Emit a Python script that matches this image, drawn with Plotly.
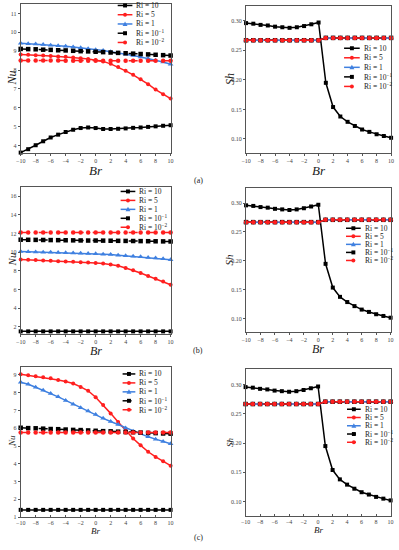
import plotly.graph_objects as go

# ---------------- data ----------------
br = [-10, -9, -8, -7, -6, -5, -4, -3, -2, -1, 0, 1, 2, 3, 4, 5, 6, 7, 8, 9, 10]
x_ticks = [-10, -8, -6, -4, -2, 0, 2, 4, 6, 8, 10]
series_names = ["Ri = 10", "Ri = 5", "Ri = 1", "Ri = 10<sup>−1</sup>", "Ri = 10<sup>−2</sup>"]
panel_labels = ["(a)", "(b)", "(c)"]

# (a) Nu
nu_a_ri10 = [3.63, 3.81, 4.02, 4.23, 4.43, 4.58, 4.72, 4.84, 4.93, 4.96, 4.93, 4.88, 4.88, 4.89, 4.91,
             4.94, 4.96, 4.99, 5.02, 5.05, 5.08]
nu_a_ri5 = [8.82, 8.81, 8.79, 8.77, 8.75, 8.72, 8.70, 8.67, 8.63, 8.59, 8.54, 8.46, 8.33, 8.16, 7.96,
            7.75, 7.52, 7.25, 6.97, 6.72, 6.49]
nu_a_ri1 = [9.42, 9.40, 9.38, 9.35, 9.32, 9.29, 9.26, 9.22, 9.18, 9.13, 9.08, 9.03, 8.97, 8.91, 8.84,
            8.77, 8.69, 8.61, 8.52, 8.43, 8.31]
nu_a_ri01 = [9.12, 9.11, 9.10, 9.08, 9.07, 9.05, 9.04, 9.02, 9.00, 8.99, 8.97, 8.95, 8.93, 8.91, 8.89,
             8.87, 8.85, 8.83, 8.81, 8.79, 8.77]
nu_a_ri001 = [8.51, 8.51, 8.51, 8.51, 8.51, 8.51, 8.50, 8.50, 8.50, 8.50, 8.50, 8.50, 8.50, 8.50, 8.50,
              8.50, 8.49, 8.49, 8.49, 8.49, 8.49]

# (b) Nu
nu_b_ri10 = [1.50, 1.50, 1.50, 1.50, 1.50, 1.50, 1.50, 1.50, 1.50, 1.50, 1.50, 1.50, 1.50, 1.50, 1.50,
             1.50, 1.50, 1.50, 1.50, 1.50, 1.50]
nu_b_ri5 = [9.22, 9.19, 9.16, 9.12, 9.08, 9.04, 9.00, 8.97, 8.93, 8.89, 8.85, 8.78, 8.68, 8.54, 8.30,
            8.05, 7.76, 7.45, 7.15, 6.84, 6.50]
nu_b_ri1 = [10.06, 10.04, 10.02, 10.00, 9.98, 9.96, 9.93, 9.91, 9.88, 9.85, 9.82, 9.78, 9.74, 9.68, 9.62,
            9.56, 9.50, 9.44, 9.37, 9.29, 9.20]
nu_b_ri01 = [11.34, 11.33, 11.32, 11.31, 11.30, 11.29, 11.28, 11.27, 11.26, 11.25, 11.25, 11.24, 11.23,
             11.22, 11.21, 11.20, 11.19, 11.18, 11.17, 11.16, 11.15]
nu_b_ri001 = [12.12, 12.12, 12.12, 12.12, 12.12, 12.12, 12.12, 12.12, 12.12, 12.12, 12.12, 12.12, 12.12,
              12.12, 12.12, 12.12, 12.12, 12.12, 12.12, 12.12, 12.12]

# (c) Nu
nu_c_ri10 = [1.41, 1.41, 1.41, 1.41, 1.41, 1.41, 1.41, 1.41, 1.41, 1.41, 1.41, 1.41, 1.41, 1.41, 1.41,
             1.41, 1.41, 1.41, 1.41, 1.41, 1.41]
nu_c_ri5 = [9.04, 8.98, 8.93, 8.87, 8.81, 8.72, 8.63, 8.52, 8.33, 8.11, 7.75, 7.31, 6.84, 6.36, 5.87,
            5.43, 5.04, 4.68, 4.39, 4.14, 3.90]
nu_c_ri1 = [8.59, 8.48, 8.31, 8.14, 7.96, 7.77, 7.57, 7.36, 7.16, 6.97, 6.77, 6.56, 6.38, 6.21, 6.02,
            5.84, 5.69, 5.52, 5.39, 5.26, 5.13]
nu_c_ri01 = [6.03, 6.01, 6.00, 5.98, 5.96, 5.95, 5.93, 5.91, 5.90, 5.88, 5.86, 5.84, 5.83, 5.81, 5.79,
             5.78, 5.76, 5.74, 5.73, 5.71, 5.70]
nu_c_ri001 = [5.76, 5.76, 5.76, 5.76, 5.76, 5.76, 5.76, 5.76, 5.76, 5.76, 5.76, 5.76, 5.76, 5.76, 5.76,
              5.76, 5.76, 5.76, 5.76, 5.76, 5.76]

# Sh (same in all three rows)
sh_ri10 = [0.296, 0.295, 0.293, 0.292, 0.290, 0.289, 0.288, 0.289, 0.291, 0.294, 0.297, 0.195, 0.154,
           0.138, 0.129, 0.122, 0.116, 0.112, 0.108, 0.105, 0.102]
sh_ri5 = [0.267, 0.267, 0.267, 0.267, 0.267, 0.267, 0.267, 0.267, 0.267, 0.267, 0.267, 0.271, 0.271,
          0.271, 0.271, 0.271, 0.271, 0.271, 0.271, 0.271, 0.271]
sh_ri1 = [0.267, 0.267, 0.267, 0.267, 0.267, 0.267, 0.267, 0.267, 0.267, 0.267, 0.267, 0.271, 0.271,
          0.271, 0.271, 0.271, 0.271, 0.271, 0.271, 0.271, 0.271]
sh_ri01 = [0.267, 0.267, 0.267, 0.267, 0.267, 0.267, 0.267, 0.267, 0.267, 0.267, 0.267, 0.271, 0.271,
           0.271, 0.271, 0.271, 0.271, 0.271, 0.271, 0.271, 0.271]
sh_ri001 = [0.267, 0.267, 0.267, 0.267, 0.267, 0.267, 0.267, 0.267, 0.267, 0.267, 0.267, 0.271, 0.271,
            0.271, 0.271, 0.271, 0.271, 0.271, 0.271, 0.271, 0.271]

nu_sets = [
    [nu_a_ri10, nu_a_ri5, nu_a_ri1, nu_a_ri01, nu_a_ri001],
    [nu_b_ri10, nu_b_ri5, nu_b_ri1, nu_b_ri01, nu_b_ri001],
    [nu_c_ri10, nu_c_ri5, nu_c_ri1, nu_c_ri01, nu_c_ri001],
]
sh_set = [sh_ri10, sh_ri5, sh_ri1, sh_ri01, sh_ri001]

# ---------------- styles ----------------
W, H = 399, 550
BLACK = "#000000"
RED = "#ff1f1f"
BLUE = "#3f80e0"
FONT = "Liberation Serif"
styles = [
    dict(color=BLACK, symbol="square", dash="solid", size=4),
    dict(color=RED, symbol="circle", dash="solid", size=4),
    dict(color=BLUE, symbol="triangle-up", dash="solid", size=5),
    dict(color=BLACK, symbol="square", dash="dash", size=4.5),
    dict(color=RED, symbol="circle", dash="dash", size=4.5),
]

# panel frames in pixels: (x0, x1, y_top, y_bottom)
frames = [
    (16, 169, 4, 154), (246, 394, 6, 154),
    (16, 169, 188, 336), (246, 393.5, 189, 334),
    (16, 169, 369, 520), (245.5, 393.5, 371, 519),
]
yranges = [(3.6, 11.5), (0.076, 0.325), (1.2, 17.0), (0.077, 0.326), (1.0, 9.45), (0.075, 0.327)]
ytickvals = [
    [4, 5, 6, 7, 8, 9, 10, 11], [0.10, 0.15, 0.20, 0.25, 0.30],
    [2, 4, 6, 8, 10, 12, 14, 16], [0.10, 0.15, 0.20, 0.25, 0.30],
    [1, 2, 3, 4, 5, 6, 7, 8, 9], [0.10, 0.15, 0.20, 0.25, 0.30],
]
# manual legend: (line x0, line x1, first-entry y, spacing) in px
legends = [
    (115, 130, 5.5, 9.3), (346, 362, 48.5, 9.6),
    (118, 133, 192.5, 9.0), (348, 363, 229.5, 8.1),
    (120, 133, 376.0, 9.0), (349, 363, 411.5, 8.3),
]
ytitle_font = [12, 12, 11, 11, 9, 9]
xtitle_font = [13, 13, 12, 12, 9, 9]
xtitle_off = [17, 17, 17, 17, 14, 14]
xtick_dir = ["outside", "outside", "outside", "outside", "inside", "inside"]


def px(x):
    return x / W


def py(y):
    return 1 - y / H


fig = go.Figure()
layout = dict(
    width=W, height=H, margin=dict(l=0, r=0, t=0, b=0),
    paper_bgcolor="white", plot_bgcolor="white", showlegend=False,
    font=dict(family=FONT, color="#222"),
)
shapes = []
annotations = []

for i in range(6):
    row, col = divmod(i, 2)
    ax = "" if i == 0 else str(i + 1)
    x0, x1, yt, yb = frames[i]
    data = nu_sets[row] if col == 0 else sh_set
    for k in range(5):
        st = styles[k]
        fig.add_trace(go.Scatter(
            x=br, y=data[k], mode="lines+markers", name=series_names[k],
            xaxis="x" + ax, yaxis="y" + ax, cliponaxis=False,
            line=dict(color=st["color"], width=1.5, dash=st["dash"]),
            marker=dict(color=st["color"], symbol=st["symbol"], size=st["size"]),
        ))
    common = dict(showline=True, linecolor="#555", linewidth=1, mirror=True, showgrid=False,
                  zeroline=False, ticklen=2, tickcolor="#555", tickwidth=1,
                  tickfont=dict(family=FONT, size=6, color="#444"))
    layout["xaxis" + ax] = dict(common, domain=[px(x0), px(x1)], range=[-10, 10], ticks=xtick_dir[i],
                                tickvals=x_ticks, anchor="y" + ax)
    yfmt = ".2f" if col == 1 else ""
    layout["yaxis" + ax] = dict(common, domain=[py(yb), py(yt)], range=list(yranges[i]), ticks="outside",
                                tickvals=ytickvals[i], tickformat=yfmt, anchor="x" + ax)
    # axis titles
    annotations.append(dict(text="<i>Br</i>", x=px((x0 + x1) / 2), y=py(yb + xtitle_off[i]),
                            xref="paper", yref="paper",
                            showarrow=False, font=dict(family=FONT, size=xtitle_font[i], color="#222"),
                            xanchor="center", yanchor="middle"))
    annotations.append(dict(text="<i>Nu</i>" if col == 0 else "<i>Sh</i>",
                            x=px(7 if col == 0 else 229), y=py((yt + yb) / 2 - 1), xref="paper", yref="paper",
                            showarrow=False, textangle=-90,
                            font=dict(family=FONT, size=ytitle_font[i], color="#222"),
                            xanchor="center", yanchor="middle"))
    # manual legend
    lx0, lx1, ly0, dy = legends[i]
    for k in range(5):
        st = styles[k]
        yy = ly0 + k * dy
        shapes.append(dict(type="line", xref="paper", yref="paper", x0=px(lx0), x1=px(lx1),
                           y0=py(yy), y1=py(yy),
                           line=dict(color=st["color"], width=1.5, dash="dash" if st["dash"] == "dash" else "solid")))
        cx = (lx0 + lx1) / 2
        r = 2.0
        if st["symbol"] == "square":
            shapes.append(dict(type="rect", xref="paper", yref="paper", x0=px(cx - r), x1=px(cx + r),
                               y0=py(yy - r), y1=py(yy + r), fillcolor=st["color"], line=dict(width=0)))
        elif st["symbol"] == "circle":
            shapes.append(dict(type="circle", xref="paper", yref="paper", x0=px(cx - r), x1=px(cx + r),
                               y0=py(yy - r), y1=py(yy + r), fillcolor=st["color"], line=dict(width=0)))
        else:
            path = "M {a},{b} L {c},{d} L {e},{f} Z".format(
                a=px(cx - 2.5), b=py(yy + 2), c=px(cx + 2.5), d=py(yy + 2), e=px(cx), f=py(yy - 2.5))
            shapes.append(dict(type="path", xref="paper", yref="paper", path=path,
                               fillcolor=st["color"], line=dict(width=0)))
        annotations.append(dict(text=series_names[k], x=px(lx1 + 2), y=py(yy), xref="paper", yref="paper",
                                showarrow=False, xanchor="left", yanchor="middle",
                                font=dict(family=FONT, size=7.5, color="#222")))

for j, lab in enumerate(panel_labels):
    yy = [181, 352, 540][j]
    annotations.append(dict(text=lab, x=px(197), y=py(yy), xref="paper", yref="paper", showarrow=False,
                            xanchor="center", yanchor="middle", font=dict(family=FONT, size=8, color="#222")))

layout["shapes"] = shapes
layout["annotations"] = annotations
fig.update_layout(**layout)
fig.write_html("out.html", config={"displayModeBar": False},
               post_script="document.body.style.margin='0';document.body.style.overflow='hidden';")
